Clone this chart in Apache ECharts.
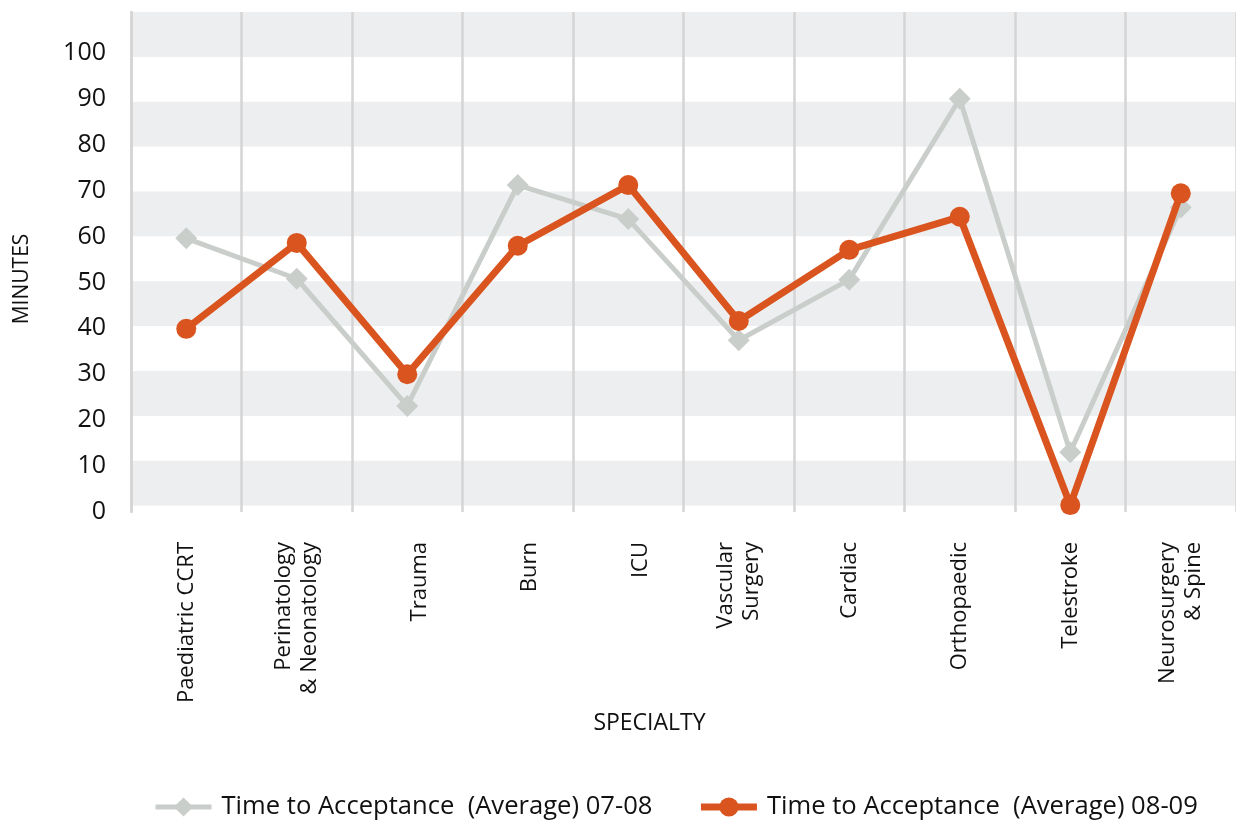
<!DOCTYPE html>
<html>
<head>
<meta charset="utf-8">
<script src="https://cdn.jsdelivr.net/npm/echarts@6/dist/echarts.min.js"></script>
<style>
html,body{margin:0;padding:0;background:#fff;}
#chart{width:1236px;height:820px;}
</style>
</head>
<body>
<div id="chart"></div>
<script>
const categories = ['Paediatric CCRT', 'Perinatology\n& Neonatology', 'Trauma', 'Burn', 'ICU',
  'Vascular\nSurgery', 'Cardiac', 'Orthopaedic', 'Telestroke', 'Neurosurgery\n& Spine'];
const series0708 = [59.6, 50.8, 23.1, 71.2, 63.8, 37.4, 50.6, 90.0, 13.0, 66.3];
const series0809 = [39.9, 58.6, 30.0, 58.0, 71.2, 41.6, 57.1, 64.3, 1.5, 69.4];
const seriesNames = ['Time to Acceptance  (Average) 07-08', 'Time to Acceptance  (Average) 08-09'];
const yTickInterval = 10;

const shifted = {'Trauma': 1, 'Burn': 1, 'ICU': 1};

const FONT = '"Open Sans", sans-serif';
const chart = echarts.init(document.getElementById('chart'), null, {renderer: 'canvas'});
chart.setOption({
  animation: false,
  backgroundColor: '#ffffff',
  grid: {left: 131, top: 12, width: 1112, height: 500, containLabel: false},
  legend: {
    left: 153, top: 794, padding: 0,
    itemWidth: 56, itemHeight: 24, itemGap: 45,
    lineStyle: {width: 'inherit'},
    textStyle: {fontFamily: FONT, fontSize: 25.6, color: '#111', padding: [0, 0, 0, 5]},
    data: seriesNames
  },
  xAxis: {
    type: 'category',
    data: categories,
    boundaryGap: true,
    name: 'SPECIALTY',
    nameLocation: 'middle',
    nameGap: 200,
    nameTextStyle: {fontFamily: FONT, fontSize: 23, color: '#111', padding: [0, 68, 0, 0]},
    axisLine: {show: false},
    axisTick: {show: false},
    axisLabel: {
      rotate: 90, margin: 30, fontFamily: FONT, fontSize: 22, color: '#111', lineHeight: 26, interval: 0,
      formatter: v => shifted[v] ? '{s|' + v + '}' : v,
      rich: {s: {fontFamily: FONT, fontSize: 22, color: '#111', lineHeight: 26, padding: [24, 0, 0, 0]}}
    },
    splitLine: {show: true, lineStyle: {color: '#d4d5d4', width: 2.5}}
  },
  yAxis: [{
    type: 'value',
    min: 0, max: 108.9, interval: yTickInterval,
    name: 'MINUTES',
    nameLocation: 'middle',
    nameRotate: 90,
    nameGap: 98,
    nameTextStyle: {fontFamily: FONT, fontSize: 21, color: '#111', padding: [0, 34, 0, 0]},
    axisLine: {show: true, lineStyle: {color: '#d4d5d4', width: 2.5}},
    axisTick: {show: false},
    axisLabel: {margin: 25, fontFamily: FONT, fontSize: 25, color: '#111', showMaxLabel: false},
    splitLine: {show: false}
  }, {
    type: 'value',
    inverse: true,
    min: 0, max: 11.14, interval: 1,
    position: 'right',
    axisLine: {show: false},
    axisTick: {show: false},
    axisLabel: {show: false},
    splitLine: {show: false},
    splitArea: {show: true, areaStyle: {color: ['#edeef0', '#ffffff']}}
  }],
  series: [{
    name: seriesNames[0],
    type: 'line',
    data: series0708,
    yAxisIndex: 0,
    symbol: 'diamond',
    symbolSize: 22,
    itemStyle: {color: '#cacecb'},
    lineStyle: {color: '#cacecb', width: 5},
    z: 2
  }, {
    name: seriesNames[1],
    type: 'line',
    data: series0809,
    yAxisIndex: 0,
    symbol: 'circle',
    symbolSize: 20,
    itemStyle: {color: '#d9541e'},
    lineStyle: {color: '#d9541e', width: 7},
    z: 3
  }]
});
</script>
</body>
</html>
